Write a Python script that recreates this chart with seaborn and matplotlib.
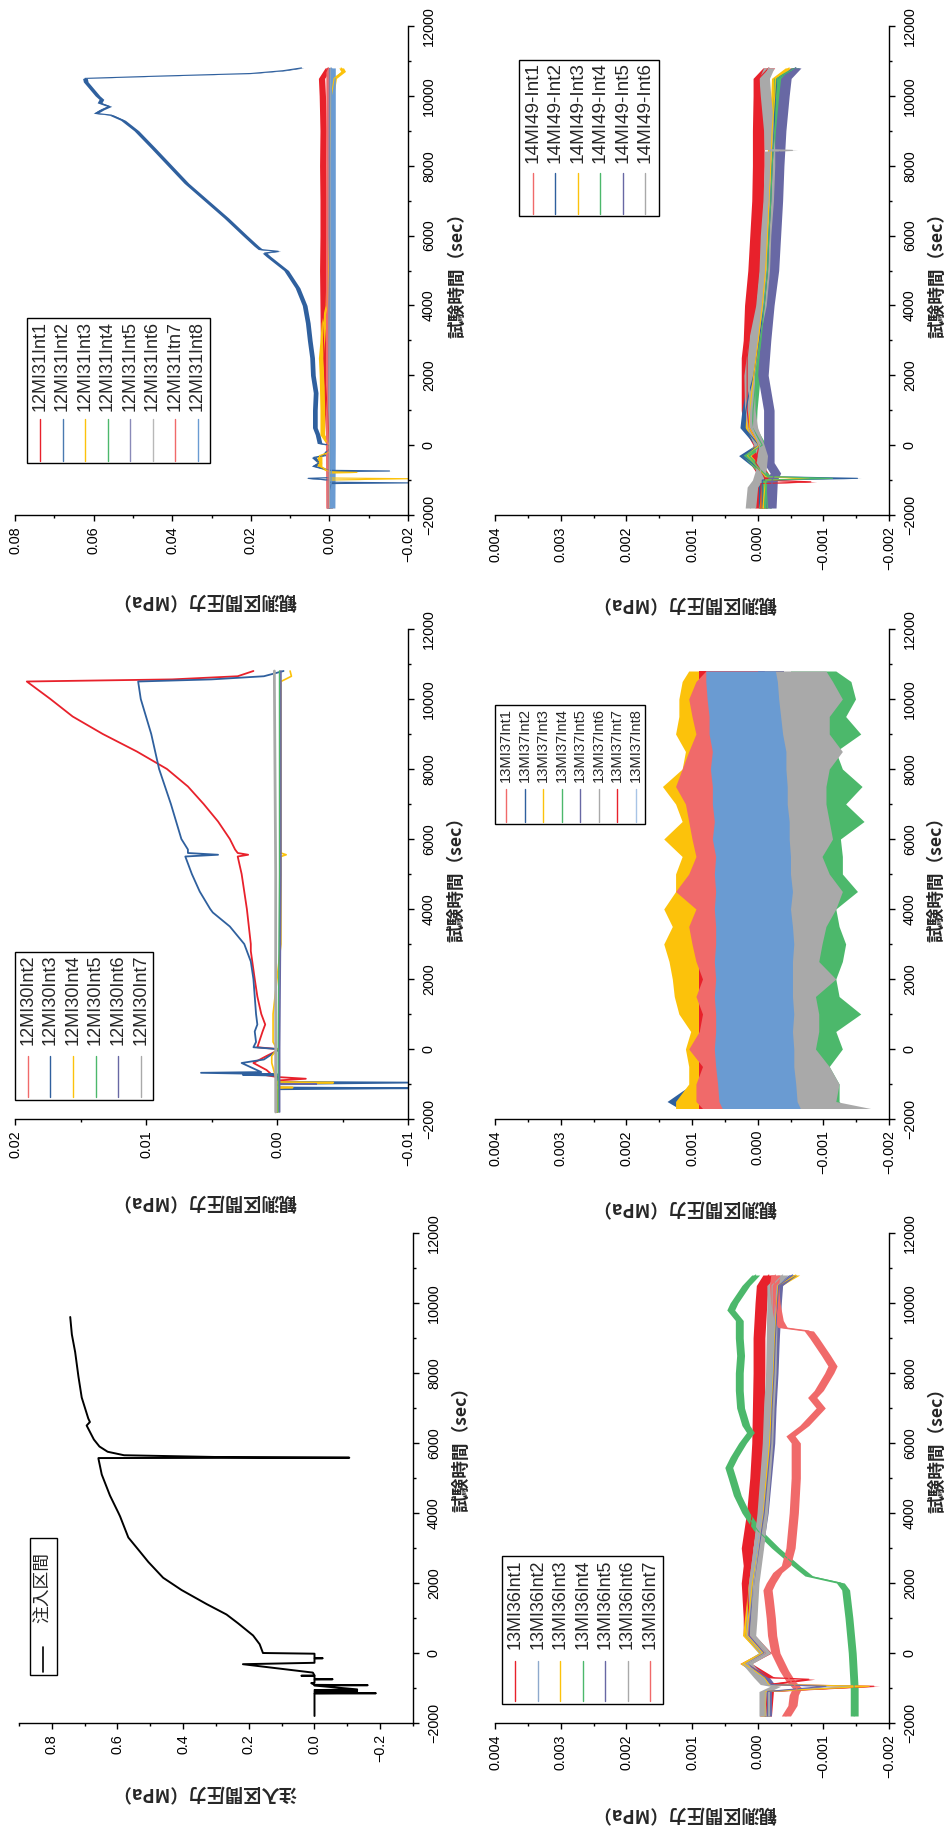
"""
Injection test pressure records: six panels on a page turned 90 degrees.
Time runs up the page, pressure grows to the left. Writes: out.png
"""
import matplotlib
matplotlib.use("Agg")
import matplotlib.pyplot as plt
import numpy as np
import seaborn as sns
from matplotlib.lines import Line2D
from matplotlib.patches import Rectangle
from matplotlib.ticker import FuncFormatter, MultipleLocator

W, H = 952, 1827

RED = "#e8212b"
SALMON = "#f06a6a"
BLUE = "#2f609e"
STEEL = "#8ea9cc"
YELLOW = "#fcc20b"
GREEN = "#4cb86b"
PURPLE = "#6868a4"
GREY = "#a9a9a9"
LBLUE = "#6a9bd2"

# ---- 注入区間 (injection interval) ----
INJ_T = [-1800, -1300, -1160, -1150, -1140, -1120, -1100, -1080, -1060, -1040,
         -930, -920, -910, -860, -850, -760, -750, -740, -660, -650,
         -640, -560, -320, -280, -160, -150, -140, -20, 0, 250,
         500, 850, 1100, 1400, 1800, 2150, 2600, 2900, 3300, 3900,
         4000, 4500, 5100, 5550, 5570, 5580, 5600, 5650, 5750, 5900,
         6100, 6500, 6600, 6700, 7300, 7900, 8600, 9100, 9600]
INJ_P = [0, 0, 0, -0.187, 0, -0.13, 0, -0.13, 0, -0.13,
         0, -0.162, 0, 0.01, 0, 0, -0.055, 0, 0, 0.04,
         0, 0.005, 0.218, 0, 0, -0.025, 0, 0, 0.157, 0.167,
         0.187, 0.233, 0.268, 0.329, 0.405, 0.461, 0.506, 0.532, 0.567, 0.592,
         0.597, 0.623, 0.648, 0.658, 0.658, -0.106, 0.30, 0.58, 0.63, 0.655,
         0.672, 0.694, 0.684, 0.689, 0.709, 0.719, 0.729, 0.739, 0.744]

# ---- 12MI30 ----
M30_LABELS = ["12MI30Int2", "12MI30Int3", "12MI30Int4",
              "12MI30Int5", "12MI30Int6", "12MI30Int7"]
M30_INT2_T = [-1800, -900, -850, -800, -750, -700, -600, -400, -200, -50,
              0, 50, 500, 700, 1000, 1500, 2000, 2800, 3000, 4000,
              5000, 5500, 5550, 5600, 5700, 6000, 6500, 7000, 7500, 8000,
              8500, 9000, 9500, 10000, 10500, 10560, 10650, 10800]
M30_INT2_P = [0.0, 0.0, -0.0022, 0.0, 0.0008, 0.0005, 0.0008, 0.0018, 0.0008, 0.0,
              0.0, 0.0015, 0.0011, 0.0009, 0.0012, 0.0015, 0.0017, 0.0020, 0.0020, 0.0023,
              0.0027, 0.0030, 0.0022, 0.0030, 0.0032, 0.0036, 0.0045, 0.0056, 0.0068, 0.0084,
              0.0107, 0.0133, 0.0156, 0.0173, 0.0191, 0.0080, 0.0030, 0.0018]
M30_INT3_T = [-1800, -1150, -1120, -1100, -1000, -960, -940, -760, -740, -720,
              -680, -660, -400, -300, -50, 0, 50, 200, 500, 700,
              1000, 2000, 2500, 3000, 3500, 3900, 4000, 4500, 5000, 5500,
              5550, 5600, 5700, 6000, 7000, 8000, 9000, 10000, 10500, 10560,
              10650, 10800]
M30_INT3_P = [0.0, 0.0, -0.0100, 0.0, 0.0, -0.0100, 0.0, 0.0, 0.0026, 0.0,
              0.0058, 0.0012, 0.0027, 0.0010, 0.0, 0.0, 0.0018, 0.0016, 0.0017, 0.0015,
              0.0016, 0.0018, 0.0020, 0.0025, 0.0036, 0.0049, 0.0051, 0.0059, 0.0065, 0.0070,
              0.0045, 0.0068, 0.0068, 0.0073, 0.0081, 0.0090, 0.0096, 0.0104, 0.0106, 0.0050,
              0.0010, -0.0005]
M30_INT4_T = [-1800, -1120, -1100, -1080, -980, -960, -940, -400, -200, 0,
              200, 1000, 2000, 3000, 5500, 5550, 5600, 10500, 10650, 10800]
M30_INT4_P = [0.0, 0.0, -0.0012, 0.0, 0.0, -0.0043, 0.0, 0.0004, 0.0004, 0.0,
              0.0003, 0.0003, 0.0, -0.0003, -0.0003, -0.0007, -0.0003, -0.0003, -0.0011, -0.0010]
M30_INT5_T = [-1800, 0, 5000, 10800]
M30_INT5_P = [-0.0001, -0.0001, -0.0002, -0.0002]
M30_INT6_T = [-1800, -1010, -1000, -990, 0, 5000, 10800]
M30_INT6_P = [-0.0002, -0.0002, -0.0030, -0.0002, -0.0002, -0.0003, -0.0003]
M30_INT7_T = [-1800, 0, 5000, 10500, 10800]
M30_INT7_P = [0.0001, 0.0001, 0.0001, 0.0002, 0.0002]

# ---- 12MI31 ----
M31_LABELS = ["12MI31Int1", "12MI31Int2", "12MI31Int3", "12MI31Int4",
              "12MI31Int5", "12MI31Int6", "12MI31Itn7", "12MI31Int8"]
M31_INT1_T = [-1800, -1000, 0, 1000, 2000, 3000, 4000, 5000, 6000, 7000,
              8000, 9000, 10000, 10500, 10800]
M31_INT1_P = [0.0, 0.0, 0.0, 0.0005, 0.0012, 0.0015, 0.0016, 0.0017, 0.0016, 0.0016,
              0.0017, 0.0016, 0.0018, 0.0020, 0.0003]
M31_INT2_T = [-1800, -1300, -1100, -1080, -1060, -1000, -950, -930, -760, -740,
              -720, -600, -500, -350, -300, -100, 0, 50, 300, 500,
              1000, 1500, 2000, 2500, 3000, 3500, 4000, 4500, 5000, 5400,
              5500, 5550, 5600, 5700, 6000, 6500, 7000, 7500, 8000, 8500,
              9000, 9300, 9450, 9500, 9600, 9700, 9800, 9900, 10000, 10200,
              10400, 10500, 10560, 10640, 10720, 10800]
M31_INT2_P = [0.0, 0.0, -0.0005, -0.0200, 0.0, 0.0, 0.0054, 0.0, 0.0, -0.0153,
              0.0, 0.0040, 0.0025, 0.0040, 0.0015, 0.0, 0.0, 0.0025, 0.0030, 0.0037,
              0.0037, 0.0035, 0.0042, 0.0044, 0.0050, 0.0055, 0.0063, 0.0081, 0.0110, 0.0155,
              0.0165, 0.0130, 0.0175, 0.0186, 0.0215, 0.0262, 0.0313, 0.0364, 0.0406, 0.0448,
              0.0491, 0.0525, 0.0555, 0.0595, 0.0580, 0.0560, 0.0585, 0.0580, 0.0590, 0.0605,
              0.0620, 0.0622, 0.0450, 0.0200, 0.0118, 0.0071]
M31_INT3_T = [-1800, -1000, -960, -940, -800, -780, -760, -600, -300, -200,
              0, 300, 1000, 2000, 2500, 3000, 3500, 4000, 6000, 8000,
              10000, 10500, 10700, 10800]
M31_INT3_P = [0.0, 0.0, -0.0200, 0.0, 0.0, -0.0070, 0.0, 0.0025, 0.0025, 0.0,
              0.0, 0.0018, 0.0018, 0.0020, 0.0022, 0.0018, 0.0015, 0.0005, 0.0, 0.0,
              -0.0005, -0.0012, -0.0035, -0.0030]
M31_FLAT_T = [-1800, 0, 5000, 10800]
M31_INT4_P = [0.0002, 0.0002, 0.0002, 0.0002]
M31_INT5_P = [0.0, 0.0, 0.0, 0.0]
M31_INT6_P = [0.0, 0.0, -0.0002, -0.0002]
M31_INT7_P = [0.0003, 0.0004, 0.0004, 0.0003]
M31_INT8_P = [-0.0004, -0.0005, -0.0005, -0.0005]
# half width of the noise band of each record (MPa)
M31_NOISE = [0.0008, 0.0006, 0.0006, 0.0005, 0.0005, 0.0005, 0.0006, 0.0010]

# ---- 13MI36 ----
M36_LABELS = ["13MI36Int1", "13MI36Int2", "13MI36Int3", "13MI36Int4",
              "13MI36Int5", "13MI36Int6", "13MI36Int7"]
M36_INT1_T = [-1800, -1100, -950, -900, -750, -700, -300, 0, 500, 1000,
              2000, 2500, 3000, 4000, 5000, 6000, 7000, 8000, 9000, 10000,
              10500, 10800]
M36_INT1_P = [-0.00012, -0.00015, -0.00177, -0.00017, -0.00078, -0.00017, 0.00018, -0.00012, 0.00013, 0.00013,
              0.00016, 0.00013, 0.00016, 0.00008, 0.00003, 0.0, -0.00001, -0.00002, -0.00002, -0.00005,
              -0.00007, -0.00017]
M36_CL_T = [-1800, -1100, -950, -900, -700, -300, 0, 500, 1000, 2000,
            3000, 4000, 5000, 6000, 7000, 8000, 9000, 10000, 10500, 10800]
M36_INT2_P = [-0.00012, -0.00012, -0.00154, -0.00017, -0.00007, 0.00018, -0.00007, 0.00016, 0.00013, 0.00008,
              0.00001, -0.00007, -0.00012, -0.00017, -0.0002, -0.00022, -0.00025, -0.00027, -0.0003, -0.00053]
M36_INT3_P = [-0.00011, -0.00011, -0.0017, -0.00017, -0.0001, 0.00021, -0.00008, 0.00017, 0.00014, 0.00008,
              -0.00001, -0.00008, -0.00013, -0.00018, -0.00021, -0.00024, -0.00026, -0.00029, -0.00031, -0.00058]
M36_INT5_P = [-0.00015, -0.00015, -0.00104, -0.0002, -0.00012, 0.00016, -0.0001, 0.00013, 0.00011, 0.00006,
              -0.00002, -0.0001, -0.00015, -0.0002, -0.00022, -0.00025, -0.00027, -0.0003, -0.00032, -0.00053]
M36_INT6_P = [-0.0001, -0.0001, -0.00027, -0.00012, -0.00002, 0.00016, -0.00012, 0.00011, 0.00009, 0.00006,
              -0.00001, -0.00007, -0.00011, -0.00015, -0.00017, -0.0002, -0.00021, -0.00022, -0.00022, -0.00038]
M36_INT4_T = [-1800, -1000, 0, 1000, 1800, 2000, 2200, 2500, 3000, 3500,
              4000, 4500, 5000, 5300, 5600, 6000, 6300, 6500, 7000, 7500,
              8000, 8500, 9000, 9500, 9800, 10000, 10500, 10800]
M36_INT4_P = [-0.00147, -0.00147, -0.00144, -0.00139, -0.00134, -0.00126, -0.00078, -0.00058, -0.00027, 0.0,
              0.00018, 0.00031, 0.00039, 0.00044, 0.00036, 0.00023, 0.00011, 0.00018, 0.00026, 0.00028,
              0.00028, 0.00026, 0.00028, 0.00028, 0.00041, 0.00036, 0.00018, 0.00003]
M36_INT7_T = [-1800, -1500, -1200, -1000, -800, -500, 0, 500, 1000, 1500,
              1800, 2000, 2300, 2500, 3000, 4000, 5000, 6000, 6200, 6500,
              7000, 7300, 7500, 8000, 8200, 8500, 9000, 9200, 9300, 9500,
              10000, 10500, 10800]
M36_INT7_P = [-0.00043, -0.00053, -0.00055, -0.0006, -0.0005, -0.0004, -0.00027, -0.00022, -0.0002, -0.00017,
              -0.00015, -0.0002, -0.0003, -0.00043, -0.0005, -0.00055, -0.00058, -0.00058, -0.0005, -0.00071,
              -0.00096, -0.00083, -0.00093, -0.00109, -0.00114, -0.00104, -0.00086, -0.00078, -0.00038, -0.00032,
              -0.00027, -0.00025, -0.00027]
M36_NOISE = [0.00009, 0.00006, 0.00006, 0.00006, 0.00006, 0.00008, 0.00007]

# ---- 13MI37 (noise bands: upper / lower envelope) ----
M37_LABELS = ["13MI37Int1", "13MI37Int2", "13MI37Int3", "13MI37Int4",
              "13MI37Int5", "13MI37Int6", "13MI37Int7", "13MI37Int8"]
M37_T = [-1700, -1500, -1000, -500, 0, 500, 1000, 1500, 2000, 2500,
         3000, 3500, 4000, 4500, 5000, 5500, 6000, 6500, 7000, 7500,
         8000, 8500, 9000, 9500, 10000, 10500, 10800]
M37_INT3_HI = [0.00125, 0.00125, 0.00105, 0.00105, 0.0011, 0.00102, 0.0012, 0.00127, 0.0013, 0.00135,
               0.00143, 0.0013, 0.00143, 0.00125, 0.00125, 0.00115, 0.00143, 0.00115, 0.00125, 0.00145,
               0.00115, 0.0011, 0.00125, 0.0012, 0.0012, 0.00115, 0.00105]
M37_INT1_HI = [0.00084, 0.00094, 0.00094, 0.00084, 0.00105, 0.00089, 0.00084, 0.00094, 0.00084, 0.00094,
               0.001, 0.00105, 0.00094, 0.00125, 0.00105, 0.00094, 0.001, 0.00105, 0.0011, 0.00125,
               0.00115, 0.00105, 0.00094, 0.001, 0.00105, 0.00094, 0.00079]
M37_INT8_HI = [0.00054, 0.00059, 0.00061, 0.00064, 0.00066, 0.00064, 0.00064, 0.00066, 0.00064, 0.00066,
               0.00064, 0.00064, 0.00066, 0.00064, 0.00066, 0.00064, 0.00069, 0.00066, 0.00069, 0.00069,
               0.00072, 0.00069, 0.00074, 0.00074, 0.00077, 0.00079, 0.00079]
M37_INT8_LO = [-0.00065, -0.0006, -0.00058, -0.00055, -0.00055, -0.00053, -0.00055, -0.00053, -0.00053, -0.00053,
               -0.00055, -0.00053, -0.0005, -0.00053, -0.0005, -0.0005, -0.00048, -0.00048, -0.00045, -0.00045,
               -0.00043, -0.00043, -0.00038, -0.00035, -0.00032, -0.0003, -0.00027]
M37_INT4_LO = [-0.00134, -0.00124, -0.00124, -0.00109, -0.00129, -0.00119, -0.00157, -0.00124, -0.00119, -0.00129,
               -0.00134, -0.00124, -0.00119, -0.00152, -0.00129, -0.00129, -0.00126, -0.00162, -0.00134, -0.00159,
               -0.00129, -0.00119, -0.00157, -0.00134, -0.00149, -0.00142, -0.00119]
M37_INT6_LO = [-0.00172, -0.00119, -0.00124, -0.00109, -0.00088, -0.00093, -0.00093, -0.00088, -0.00119, -0.00093,
               -0.00098, -0.00104, -0.00119, -0.00129, -0.00109, -0.00098, -0.00114, -0.00109, -0.00104, -0.00104,
               -0.00109, -0.00129, -0.00109, -0.00109, -0.00129, -0.00114, -0.00104]
M37_INT2_T = [-1700, -1500, -1200, -900, 10800]
M37_INT2_HI = [0.0012, 0.00138, 0.00115, 0.0009, 0.0009]
M37_INT2_LO = [-0.0003, -0.0003, -0.0003, -0.0003, -0.0003]
M37_SPAN_T = [-1700, 10800]

# ---- 14MI49 ----
M49_LABELS = ["14MI49-Int1", "14MI49-Int2", "14MI49-Int3",
              "14MI49-Int4", "14MI49-Int5", "14MI49-Int6"]
M49_INT1_T = [-1800, -1100, -1050, -1000, -800, -500, 0, 500, 1000, 2000,
              2500, 3000, 4000, 5000, 6000, 7000, 8000, 9000, 10000, 10500, 10800]
M49_INT1_P = [-0.00005, -0.00005, -0.00081, -0.00012, -0.00007, 0.00003, -0.00002, 0.00013, 0.00016, 0.00016,
              0.00016, 0.00013, 0.00011, 0.00006, 0.00003, 0.0, -0.00001, -0.00001, -0.00002, -0.00002, -0.00017]
M49_INT2_T = [-1800, -1000, -950, -900, -600, -300, 0, 500, 1000, 1500,
              2000, 3000, 4000, 5000, 6000, 7000, 8000, 9000, 10000, 10500, 10800]
M49_INT2_P = [-0.00007, -0.00007, -0.00152, -0.00012, 0.00003, 0.00023, -0.00002, 0.00021, 0.00018, 0.00013,
              0.00006, -0.00002, -0.0001, -0.00015, -0.00017, -0.0002, -0.00022, -0.00025, -0.00027, -0.0003, -0.00058]
M49_YG_T = [-1800, -1000, -950, -900, -300, 0, 500, 1000, 2000, 3000,
            4000, 5000, 6000, 7000, 8000, 9000, 10000, 10500, 10800]
M49_INT3_P = [-0.00008, -0.00012, -0.00078, -0.00012, 0.00016, -0.00002, 0.00013, 0.00012, 0.00006, -0.00001,
              -0.00007, -0.00012, -0.00015, -0.00017, -0.0002, -0.00022, -0.00026, -0.00027, -0.00048]
M49_INT4_P = [-0.00015, -0.00012, -0.00114, -0.00015, 0.00018, -0.00007, 0.00008, 0.00007, 0.00002, -0.00005,
              -0.0001, -0.00015, -0.00017, -0.0002, -0.00022, -0.00026, -0.0003, -0.0003, -0.00058]
M49_INT5_T = [-1800, -1000, -800, -500, 0, 500, 1000, 2000, 3000, 4000,
              5000, 6000, 7000, 8000, 9000, 10000, 10500, 10800]
M49_INT5_P = [-0.0002, -0.00022, -0.00027, -0.00017, -0.00017, -0.00017, -0.00017, -0.00008, -0.00012, -0.00017,
              -0.00024, -0.00027, -0.0003, -0.00032, -0.00035, -0.0004, -0.00043, -0.00058]
M49_INT6_T = [-1800, -1200, -1000, -700, -300, 0, 500, 1000, 2000, 3000,
              4000, 5000, 6000, 7000, 8000, 8420, 8440, 8460, 9000, 10000, 10500, 10800]
M49_INT6_P = [0.00011, 0.00008, 0.0, -0.00005, -0.00007, -0.00002, 0.00008, 0.00012, 0.00013, 0.00006,
              -0.00005, -0.0001, -0.00012, -0.00016, -0.00018, -0.00018, -0.00053, -0.00018, -0.00017, -0.00012,
              -0.0001, -0.00017]
M49_NOISE = [0.00009, 0.00006, 0.00006, 0.00006, 0.00008, 0.00008]

TIME_LABEL = "試験時間（sec）"
OBS_LABEL = "観測区間圧力（MPa）"
INJ_LABEL = "注入区間圧力（MPa）"
INJ_LEGEND = "注入区間"

CJK = ["Noto Sans CJK JP", "DejaVu Sans"]
NUM_FONT = "Liberation Sans"


def fx(x):
    return x / W


def fy(y):
    return 1 - y / H


def num_fmt(dec):
    def f(v, _):
        if abs(v) < 1e-12:
            v = 0.0
        return f"{v:.{dec}f}".replace("-", "\u2212")
    return FuncFormatter(f)


def make_panel(fig, box):
    x0, y0, x1, y1 = box
    ax = fig.add_axes([fx(x0), fy(y1), (x1 - x0) / W, (y1 - y0) / H])
    ax.set_facecolor("none")
    return ax


def finish_panel(ax, xlim, major, minor, dec, tick_size):
    ax.set_xlim(*xlim)
    ax.set_ylim(-2000, 12000)
    ax.set_xlabel("")
    ax.set_ylabel("")
    sns.despine(ax=ax, top=True, right=False, left=True, bottom=False)
    ax.xaxis.set_major_locator(MultipleLocator(major))
    ax.xaxis.set_minor_locator(MultipleLocator(minor))
    ax.yaxis.set_major_locator(MultipleLocator(2000))
    ax.yaxis.set_minor_locator(MultipleLocator(1000))
    ax.xaxis.set_major_formatter(num_fmt(dec))
    ax.yaxis.set_major_formatter(num_fmt(0))
    ax.tick_params(axis="x", which="both", bottom=True, top=False,
                   direction="out", labelrotation=90, pad=4,
                   labelsize=tick_size, labelfontfamily=NUM_FONT)
    ax.tick_params(axis="y", which="both", left=False, right=True,
                   labelleft=False, labelright=True, direction="out",
                   labelrotation=90, pad=6, labelsize=tick_size,
                   labelfontfamily=NUM_FONT)
    ax.tick_params(which="major", length=4, width=1.0)
    ax.tick_params(which="minor", length=2.5, width=1.0)
    for tk in ax.yaxis.get_major_ticks():
        tk.label2.set_verticalalignment("center")


def line(ax, t, p, color, lw):
    sns.lineplot(x=p, y=t, ax=ax, color=color, linewidth=lw, sort=False,
                 estimator=None, orient="y", solid_joinstyle="round")


def noisy(ax, t, p, half, color):
    p = np.asarray(p, dtype=float)
    ax.fill_betweenx(t, p - half, p + half, color=color, linewidth=0)
    line(ax, t, p, color, 0.8)


def band(ax, t, lo, hi, color):
    ax.fill_betweenx(t, lo, hi, color=color, linewidth=0)


def axis_texts(fig, renderer, p_label, p_center, t_center):
    tp = fig.text(fx(p_center[0]), fy(p_center[1]), p_label, rotation=180,
                  ha="center", va="center", fontsize=12, family=CJK,
                  fontweight="bold")
    bb = tp.get_window_extent(renderer)
    tp.set_fontsize(12 * 184 / bb.width)
    tt = fig.text(fx(t_center[0]), fy(t_center[1]), TIME_LABEL, rotation=90,
                  ha="center", va="center", fontsize=12, family=CJK,
                  fontweight="bold")
    bb = tt.get_window_extent(renderer)
    tt.set_fontsize(12 * 134 / bb.height)


def legend(fig, renderer, box, labels, colors, x0, step, text_bottom,
           line_top, line_bottom, target_len, family, lw=1.0):
    xl, yt, xr, yb = box
    fig.add_artist(Rectangle((fx(xl), fy(yb)), fx(xr) - fx(xl), fy(yt) - fy(yb),
                             transform=fig.transFigure, facecolor="white",
                             edgecolor="black", linewidth=1.0, zorder=5))
    texts = []
    for i, (lab, col) in enumerate(zip(labels, colors)):
        x = x0 + i * step
        t = fig.text(fx(x), fy(text_bottom), lab, rotation=90, ha="center",
                     va="bottom", fontsize=10, family=family, zorder=6)
        texts.append(t)
        fig.add_artist(Line2D([fx(x), fx(x)], [fy(line_bottom), fy(line_top)],
                              transform=fig.transFigure, color=col, lw=lw,
                              zorder=6))
    bb = texts[0].get_window_extent(renderer)
    size = 10 * target_len / bb.height
    for t in texts:
        t.set_fontsize(size)


def main():
    sns.set_theme(style="ticks", rc={"axes.linewidth": 1.0,
                                     "axes.edgecolor": "black",
                                     "xtick.color": "black",
                                     "ytick.color": "black"})
    plt.rcParams["font.family"] = [NUM_FONT, "Noto Sans CJK JP", "DejaVu Sans"]

    fig = plt.figure(figsize=(W / 100, H / 100), dpi=100)
    fig.patch.set_facecolor("white")
    renderer = fig.canvas.get_renderer()

    probe = fig.text(0, 0, "12000", rotation=90, fontsize=10, family=NUM_FONT)
    tick_size = 10 * 40 / probe.get_window_extent(renderer).height
    probe.remove()

    # ---- injection interval (bottom left) ----
    ax = make_panel(fig, (19, 1233, 413, 1723))
    line(ax, INJ_T, INJ_P, "black", 1.4)
    finish_panel(ax, (0.9, -0.3), 0.2, 0.1, 1, tick_size)
    axis_texts(fig, renderer, INJ_LABEL, (204, 1792), (461, 1445))
    legend(fig, renderer, (30, 1538, 57, 1675), [INJ_LEGEND], ["black"],
           43, 0, 1623, 1647, 1672, 71, CJK, lw=1.2)

    # ---- 12MI30 (middle left) ----
    ax = make_panel(fig, (15, 629, 408, 1119))
    line(ax, M30_INT2_T, M30_INT2_P, RED, 1.3)
    line(ax, M30_INT3_T, M30_INT3_P, BLUE, 1.3)
    line(ax, M30_INT4_T, M30_INT4_P, YELLOW, 1.2)
    line(ax, M30_INT5_T, M30_INT5_P, GREEN, 1.2)
    line(ax, M30_INT6_T, M30_INT6_P, PURPLE, 1.2)
    line(ax, M30_INT7_T, M30_INT7_P, GREY, 2.0)
    finish_panel(ax, (0.02, -0.01), 0.01, 0.005, 2, tick_size)
    axis_texts(fig, renderer, OBS_LABEL, (204, 1201), (456, 875))
    legend(fig, renderer, (15, 952, 153, 1100), M30_LABELS,
           [SALMON, BLUE, YELLOW, GREEN, PURPLE, GREY],
           27.7, 22.6, 1045, 1056, 1097, 91, NUM_FONT)

    # ---- 12MI31 (top left) ----
    ax = make_panel(fig, (15, 26, 408, 515))
    noisy(ax, M31_INT1_T, M31_INT1_P, M31_NOISE[0], RED)
    noisy(ax, M31_INT2_T, M31_INT2_P, M31_NOISE[1], BLUE)
    noisy(ax, M31_INT3_T, M31_INT3_P, M31_NOISE[2], YELLOW)
    noisy(ax, M31_FLAT_T, M31_INT4_P, M31_NOISE[3], GREEN)
    noisy(ax, M31_FLAT_T, M31_INT5_P, M31_NOISE[4], PURPLE)
    noisy(ax, M31_FLAT_T, M31_INT6_P, M31_NOISE[5], GREY)
    noisy(ax, M31_FLAT_T, M31_INT7_P, M31_NOISE[6], SALMON)
    noisy(ax, M31_FLAT_T, M31_INT8_P, M31_NOISE[7], LBLUE)
    finish_panel(ax, (0.08, -0.02), 0.02, 0.01, 2, tick_size)
    axis_texts(fig, renderer, OBS_LABEL, (204, 600), (457, 271))
    legend(fig, renderer, (27, 318, 210, 463), M31_LABELS,
           [RED, "#4a7ab0", YELLOW, GREEN, "#8a8ab8", "#b8b8b8", SALMON, LBLUE],
           40, 22.5, 411, 419, 461, 90, NUM_FONT)

    # ---- 13MI36 (bottom right) ----
    ax = make_panel(fig, (495, 1233, 889, 1723))
    noisy(ax, M36_INT1_T, M36_INT1_P, M36_NOISE[0], RED)
    noisy(ax, M36_CL_T, M36_INT2_P, M36_NOISE[1], STEEL)
    noisy(ax, M36_CL_T, M36_INT3_P, M36_NOISE[2], YELLOW)
    noisy(ax, M36_INT4_T, M36_INT4_P, M36_NOISE[3], GREEN)
    noisy(ax, M36_CL_T, M36_INT5_P, M36_NOISE[4], PURPLE)
    noisy(ax, M36_CL_T, M36_INT6_P, M36_NOISE[5], GREY)
    noisy(ax, M36_INT7_T, M36_INT7_P, M36_NOISE[6], SALMON)
    finish_panel(ax, (0.004, -0.002), 0.001, 0.0005, 3, tick_size)
    axis_texts(fig, renderer, OBS_LABEL, (684, 1813), (937, 1446))
    legend(fig, renderer, (502, 1556, 663, 1704), M36_LABELS,
           [RED, STEEL, YELLOW, GREEN, PURPLE, GREY, SALMON],
           515.3, 22.45, 1649, 1661, 1701, 89.5, NUM_FONT)

    # ---- 13MI37 (middle right) ----
    ax = make_panel(fig, (495, 629, 889, 1119))
    band(ax, M37_INT2_T, M37_INT2_LO, M37_INT2_HI, BLUE)
    band(ax, M37_SPAN_T, [-0.0004, -0.0004], [0.0008, 0.0008], PURPLE)
    band(ax, M37_T, [0.0004] * len(M37_T), M37_INT3_HI, YELLOW)
    band(ax, M37_T, M37_INT4_LO, [-0.0005] * len(M37_T), GREEN)
    band(ax, M37_T, M37_INT6_LO, [-0.0001] * len(M37_T), GREY)
    band(ax, M37_SPAN_T, [0.0, 0.0], [0.0009, 0.0009], RED)
    band(ax, M37_T, [0.0] * len(M37_T), M37_INT1_HI, SALMON)
    band(ax, M37_T, M37_INT8_LO, M37_INT8_HI, LBLUE)
    finish_panel(ax, (0.004, -0.002), 0.001, 0.0005, 3, tick_size)
    axis_texts(fig, renderer, OBS_LABEL, (684, 1207), (936, 875))
    legend(fig, renderer, (495, 705, 645, 824), M37_LABELS,
           [SALMON, BLUE, YELLOW, GREEN, PURPLE, GREY, RED, "#a8c4e6"],
           506, 18.5, 782, 789, 822, 74, NUM_FONT)

    # ---- 14MI49 (top right) ----
    ax = make_panel(fig, (495, 26, 889, 515))
    noisy(ax, M49_INT1_T, M49_INT1_P, M49_NOISE[0], RED)
    noisy(ax, M49_INT2_T, M49_INT2_P, M49_NOISE[1], BLUE)
    noisy(ax, M49_YG_T, M49_INT3_P, M49_NOISE[2], YELLOW)
    noisy(ax, M49_YG_T, M49_INT4_P, M49_NOISE[3], GREEN)
    noisy(ax, M49_INT5_T, M49_INT5_P, M49_NOISE[4], PURPLE)
    noisy(ax, M49_INT6_T, M49_INT6_P, M49_NOISE[5], GREY)
    finish_panel(ax, (0.004, -0.002), 0.001, 0.0005, 3, tick_size)
    axis_texts(fig, renderer, OBS_LABEL, (684, 603), (937, 271))
    legend(fig, renderer, (519, 60, 659, 216), M49_LABELS,
           [SALMON, BLUE, YELLOW, GREEN, PURPLE, GREY],
           532.7, 22.5, 163, 173, 214, 101, NUM_FONT)

    fig.savefig("out.png", dpi=100, facecolor="white")
    plt.close(fig)


if __name__ == "__main__":
    main()
